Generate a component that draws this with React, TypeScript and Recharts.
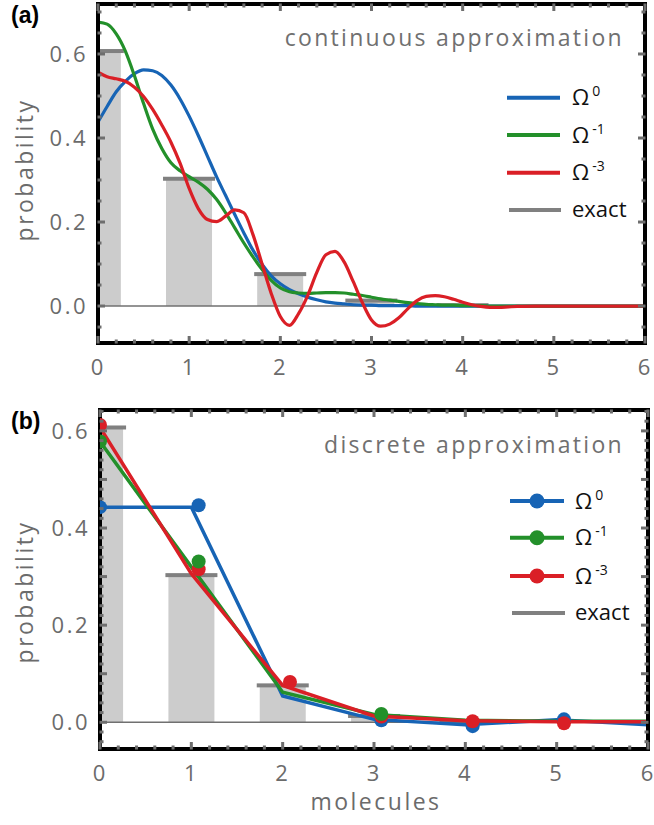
import React from 'react';
import { ComposedChart, Line, Bar, Scatter, XAxis, YAxis, ReferenceLine, Legend } from 'recharts';

// ---------- data ----------
const exactX = [0, 1, 2, 3, 4];
const exactP = [0.607, 0.303, 0.076, 0.013, 0.002];

const contX = [0, 0.1, 0.2, 0.3, 0.4, 0.5, 0.6, 0.7, 0.8, 0.9, 1.0, 1.1, 1.2, 1.3, 1.4, 1.5, 1.6, 1.7, 1.8, 1.9, 2.0, 2.1, 2.2, 2.3, 2.4, 2.5, 2.6, 2.7, 2.8, 2.9, 3.0, 3.1, 3.2, 3.3, 3.4, 3.5, 3.6, 3.7, 3.8, 3.9, 4.0, 4.1, 4.2, 4.3, 4.4, 4.5, 4.6, 4.8, 5.0, 5.5, 6.0];
const contBlue = [0.438, 0.475, 0.510, 0.535, 0.553, 0.562, 0.560, 0.549, 0.526, 0.493, 0.452, 0.406, 0.357, 0.308, 0.263, 0.218, 0.174, 0.133, 0.099, 0.072, 0.053, 0.039, 0.029, 0.021, 0.015, 0.010, 0.007, 0.005, 0.003, 0.002, 0.002, 0.001, 0.001, 0.001, 0.001, 0, 0, 0, 0, 0, 0, 0, 0, 0, 0, 0, 0, 0, 0, 0, 0];
const contGreen = [0.676, 0.671, 0.648, 0.607, 0.548, 0.482, 0.421, 0.375, 0.341, 0.322, 0.308, 0.295, 0.278, 0.254, 0.222, 0.186, 0.150, 0.117, 0.087, 0.061, 0.043, 0.034, 0.031, 0.030, 0.031, 0.032, 0.032, 0.031, 0.028, 0.025, 0.021, 0.017, 0.014, 0.011, 0.008, 0.006, 0.004, 0.003, 0.002, 0.002, 0.001, 0.001, 0.001, 0, 0, 0, 0, 0, 0, 0, 0];
const contRed = [0.557, 0.546, 0.541, 0.535, 0.521, 0.499, 0.468, 0.431, 0.390, 0.340, 0.280, 0.232, 0.206, 0.201, 0.214, 0.229, 0.222, 0.170, 0.100, 0.030, -0.025, -0.046, -0.018, 0.025, 0.080, 0.122, 0.130, 0.105, 0.058, 0.008, -0.033, -0.048, -0.043, -0.028, -0.006, 0.013, 0.023, 0.025, 0.022, 0.016, 0.009, 0.003, -0.001, -0.003, -0.003, -0.002, -0.001, 0, 0, 0, 0];

const discX = [0, 1, 2, 3, 4, 5, 6];
const discBlue = [0.443, 0.443, 0.054, 0.006, -0.005, 0.005, -0.005];
const discGreen = [0.578, 0.320, 0.062, 0.016, 0.004, 0.002, 0.002];
const discRed = [0.607, 0.306, 0.076, 0.013, 0.003, 0.001, 0.001];

const markX = [0, 1.08, 2.08, 3.08, 4.08, 5.08];
const markBlue = [0.443, 0.447, null, 0.004, -0.008, 0.006];
const markGreen = [0.578, 0.331, null, 0.017, null, null];
const markRed = [0.612, 0.315, 0.083, 0.012, 0.002, -0.002];

const xTickLabels = ['0', '1', '2', '3', '4', '5', '6'];
const yTickLabels = ['0.0', '0.2', '0.4', '0.6'];
const legendSups = ['0', '-1', '-3'];

// ---------- styling ----------
const BLUE = '#1764b5';
const GREEN = '#23902a';
const RED = '#da1f26';
const MARK = '#6e6e6e';
const LABEL = '#6b6b6b';
const FONT = '"Open Sans", "DejaVu Sans", sans-serif';
const BAR_HALF = 23;
const CAP_HALF = 26;

const zip = (xs: number[], ys: (number | null)[]) =>
  xs.map((x, i) => ({ x, y: ys[i] })).filter((d) => d.y !== null && d.y !== undefined);

const range = (a: number, b: number, s: number) => {
  const out: number[] = [];
  const n = Math.round((b - a) / s);
  for (let i = 0; i <= n; i++) out.push(Math.round((a + i * s) * 1000) / 1000);
  return out;
};

const xTicks = range(0, 6, 0.2);
const topYTicks = range(-0.05, 0.7, 0.05);
const botYTicks = range(-0.04, 0.64, 0.02);

type Side = 'bottom' | 'top' | 'left' | 'right';
const tickRenderer = (side: Side, majorStep: number, labels: boolean) => (props: any) => {
  const { x, y, payload } = props;
  const v = payload.value;
  const q = v / majorStep;
  const major = Math.abs(q - Math.round(q)) < 1e-6;
  const len = major ? 7.5 : 4;
  const t = 3;
  let mark;
  if (side === 'bottom') mark = <rect x={x - t / 2} y={y - len + 0.5} width={t} height={len} fill={MARK} />;
  else if (side === 'top') mark = <rect x={x - t / 2} y={y - 0.5} width={t} height={len} fill={MARK} />;
  else if (side === 'left') mark = <rect x={x - 0.5} y={y - t / 2} width={len} height={t} fill={MARK} />;
  else mark = <rect x={x - len + 0.5} y={y - t / 2} width={len} height={t} fill={MARK} />;
  let label = null;
  if (labels && side === 'bottom') {
    const s = xTickLabels.find((l) => Math.abs(parseFloat(l) - v) < 1e-6);
    if (s) label = (
      <text x={x} y={y + 32} textAnchor="middle" fontSize={22} letterSpacing={2} fill={LABEL} fontFamily={FONT}>{s}</text>
    );
  }
  if (labels && side === 'left') {
    const s = yTickLabels.find((l) => Math.abs(parseFloat(l) - v) < 1e-6);
    if (s) label = (
      <text x={x - 10} y={y + 8} textAnchor="end" fontSize={22} letterSpacing={2.5} fill={LABEL} fontFamily={FONT}>{s}</text>
    );
  }
  return <g>{mark}{label}</g>;
};

const ExactBar = (p: any) => {
  const { x, y, width, height } = p;
  if (x === undefined || y === undefined) return null;
  const cx = x + (width || 0) / 2;
  return (
    <g>
      <rect x={cx - BAR_HALF} y={y} width={BAR_HALF * 2} height={Math.max(height || 0, 0)} fill="#cccccc" />
      <rect x={cx - CAP_HALF} y={y - 2} width={CAP_HALF * 2} height={4} fill="#808080" />
    </g>
  );
};

const dotShape = (color: string) => (p: any) => <circle cx={p.cx} cy={p.cy} r={7} fill={color} />;

const frameLine = { stroke: '#000', strokeWidth: 4, strokeLinecap: 'square' as const };

const LegendContent = ({ withDots, rows, x0, x1, tx }: { withDots: boolean; rows: number[]; x0: number; x1: number; tx: number }) => {
  const colors = [BLUE, GREEN, RED];
  return (
    <svg width={150} height={160} style={{ overflow: 'visible' }}>
      {legendSups.map((sup, i) => (
        <g key={sup}>
          <line x1={x0} x2={x1} y1={rows[i]} y2={rows[i]} stroke={colors[i]} strokeWidth={4} />
          {withDots && <circle cx={(x0 + x1) / 2} cy={rows[i]} r={7.5} fill={colors[i]} />}
          <text x={tx} y={rows[i] + 7.5} fontSize={22} fill="#111" fontFamily={FONT}>
            Ω<tspan dx={3} dy={-9} fontSize={14}>{sup}</tspan>
          </text>
        </g>
      ))}
      <line x1={x0 + 2} x2={x1 + 1} y1={rows[3]} y2={rows[3]} stroke="#808080" strokeWidth={4} />
      <text x={tx} y={rows[3] + 7} fontSize={22} fill="#111" fontFamily={FONT}>exact</text>
    </svg>
  );
};

const exactData = exactX.map((x, i) => ({ x, p: exactP[i] }));

export default function App() {
  const topDomain: [number, number] = [-0.088, 0.719];
  const botDomain: [number, number] = [-0.055, 0.643];
  return (
    <div style={{ position: 'absolute', left: 0, top: 0, width: 654, height: 825, background: '#fff' }}>
      {/* panel (a) */}
      <div style={{ position: 'absolute', left: 0, top: 0 }}>
        <ComposedChart width={654} height={393} data={exactData} margin={{ top: 3, right: 8, bottom: 0, left: 0 }}>
          <XAxis xAxisId={0} dataKey="x" type="number" domain={[0, 6]} allowDataOverflow ticks={xTicks} interval={0}
            height={50} tickSize={0} tickMargin={0} tickLine={false} axisLine={frameLine} tick={tickRenderer('bottom', 1, true)} />
          <XAxis xAxisId="top" orientation="top" dataKey="x" type="number" domain={[0, 6]} allowDataOverflow ticks={xTicks} interval={0}
            height={1} tickSize={0} tickMargin={0} tickLine={false} axisLine={frameLine} tick={tickRenderer('top', 1, false)} />
          <YAxis yAxisId={0} type="number" domain={topDomain} allowDataOverflow ticks={topYTicks} interval={0}
            width={98} tickSize={0} tickMargin={0} tickLine={false} axisLine={frameLine} tick={tickRenderer('left', 0.2, true)} />
          <YAxis yAxisId="right" orientation="right" type="number" domain={topDomain} allowDataOverflow ticks={topYTicks} interval={0}
            width={1} tickSize={0} tickMargin={0} tickLine={false} axisLine={frameLine} tick={tickRenderer('right', 0.2, false)} />
          <Bar dataKey="p" shape={ExactBar} isAnimationActive={false} />
          <ReferenceLine y={0} stroke="#707070" strokeWidth={1.5} />
          <Line data={zip(contX, contBlue)} dataKey="y" type="monotone" stroke={BLUE} strokeWidth={3.2} dot={false} activeDot={false} isAnimationActive={false} />
          <Line data={zip(contX, contGreen)} dataKey="y" type="monotone" stroke={GREEN} strokeWidth={3.2} dot={false} activeDot={false} isAnimationActive={false} />
          <Line data={zip(contX, contRed)} dataKey="y" type="monotone" stroke={RED} strokeWidth={3.2} dot={false} activeDot={false} isAnimationActive={false} />
          <Legend layout="vertical" align="center" verticalAlign="middle"
            wrapperStyle={{ left: 500, top: 80, width: 150, height: 160 }}
            content={() => <LegendContent withDots={false} rows={[17.7, 55, 92.7, 130]} x0={7} x1={60} tx={72} />} />
        </ComposedChart>
      </div>

      {/* panel (b) */}
      <div style={{ position: 'absolute', left: 0, top: 400 }}>
        <ComposedChart width={654} height={425} data={exactData} margin={{ top: 9, right: 5, bottom: 0, left: 0 }}>
          <XAxis xAxisId={0} dataKey="x" type="number" domain={[0, 6]} allowDataOverflow ticks={xTicks} interval={0}
            height={76} tickSize={0} tickMargin={0} tickLine={false} axisLine={frameLine} tick={tickRenderer('bottom', 1, true)} />
          <XAxis xAxisId="top" orientation="top" dataKey="x" type="number" domain={[0, 6]} allowDataOverflow ticks={xTicks} interval={0}
            height={1} tickSize={0} tickMargin={0} tickLine={false} axisLine={frameLine} tick={tickRenderer('top', 1, false)} />
          <YAxis yAxisId={0} type="number" domain={botDomain} allowDataOverflow ticks={botYTicks} interval={0}
            width={100} tickSize={0} tickMargin={0} tickLine={false} axisLine={frameLine} tick={tickRenderer('left', 0.1, true)} />
          <YAxis yAxisId="right" orientation="right" type="number" domain={botDomain} allowDataOverflow ticks={botYTicks} interval={0}
            width={1} tickSize={0} tickMargin={0} tickLine={false} axisLine={frameLine} tick={tickRenderer('right', 0.1, false)} />
          <Bar dataKey="p" shape={ExactBar} isAnimationActive={false} />
          <ReferenceLine y={0} stroke="#707070" strokeWidth={1.5} />
          <Line data={zip(discX, discBlue)} dataKey="y" type="linear" stroke={BLUE} strokeWidth={3.5} dot={false} activeDot={false} isAnimationActive={false} />
          <Line data={zip(discX, discGreen)} dataKey="y" type="linear" stroke={GREEN} strokeWidth={3.5} dot={false} activeDot={false} isAnimationActive={false} />
          <Line data={zip(discX, discRed)} dataKey="y" type="linear" stroke={RED} strokeWidth={3.5} dot={false} activeDot={false} isAnimationActive={false} />
          <Scatter data={zip(markX, markBlue)} dataKey="y" shape={dotShape(BLUE)} isAnimationActive={false} />
          <Scatter data={zip(markX, markRed)} dataKey="y" shape={dotShape(RED)} isAnimationActive={false} />
          <Scatter data={zip(markX, markGreen)} dataKey="y" shape={dotShape(GREEN)} isAnimationActive={false} />
          <Legend layout="vertical" align="center" verticalAlign="middle"
            wrapperStyle={{ left: 500, top: 80, width: 150, height: 160 }}
            content={() => <LegendContent withDots={true} rows={[21, 57.7, 96, 133]} x0={10} x1={64} tx={75} />} />
        </ComposedChart>
      </div>

      {/* text overlay */}
      <svg width={654} height={825} style={{ position: 'absolute', left: 0, top: 0, pointerEvents: 'none' }}>
        <text x={11} y={23} fontSize={23} fontWeight="bold" fontFamily='"Liberation Sans", Arial, sans-serif' fill="#000">(a)</text>
        <text x={11} y={429} fontSize={23} fontWeight="bold" fontFamily='"Liberation Sans", Arial, sans-serif' fill="#000">(b)</text>
        <text x={624} y={45.5} textAnchor="end" fontSize={23} letterSpacing={2.3} fill="#707070" fontFamily={FONT}>continuous approximation</text>
        <text x={624} y={453} textAnchor="end" fontSize={23} letterSpacing={2.3} fill="#707070" fontFamily={FONT}>discrete approximation</text>
        <text x={33} y={170} transform="rotate(-90 33 170)" textAnchor="middle" fontSize={23} letterSpacing={2.5} fill={LABEL} fontFamily={FONT}>probability</text>
        <text x={33} y={592} transform="rotate(-90 33 592)" textAnchor="middle" fontSize={23} letterSpacing={2.5} fill={LABEL} fontFamily={FONT}>probability</text>
        <text x={376} y={810} textAnchor="middle" fontSize={23} letterSpacing={2.5} fill={LABEL} fontFamily={FONT}>molecules</text>
      </svg>
    </div>
  );
}
